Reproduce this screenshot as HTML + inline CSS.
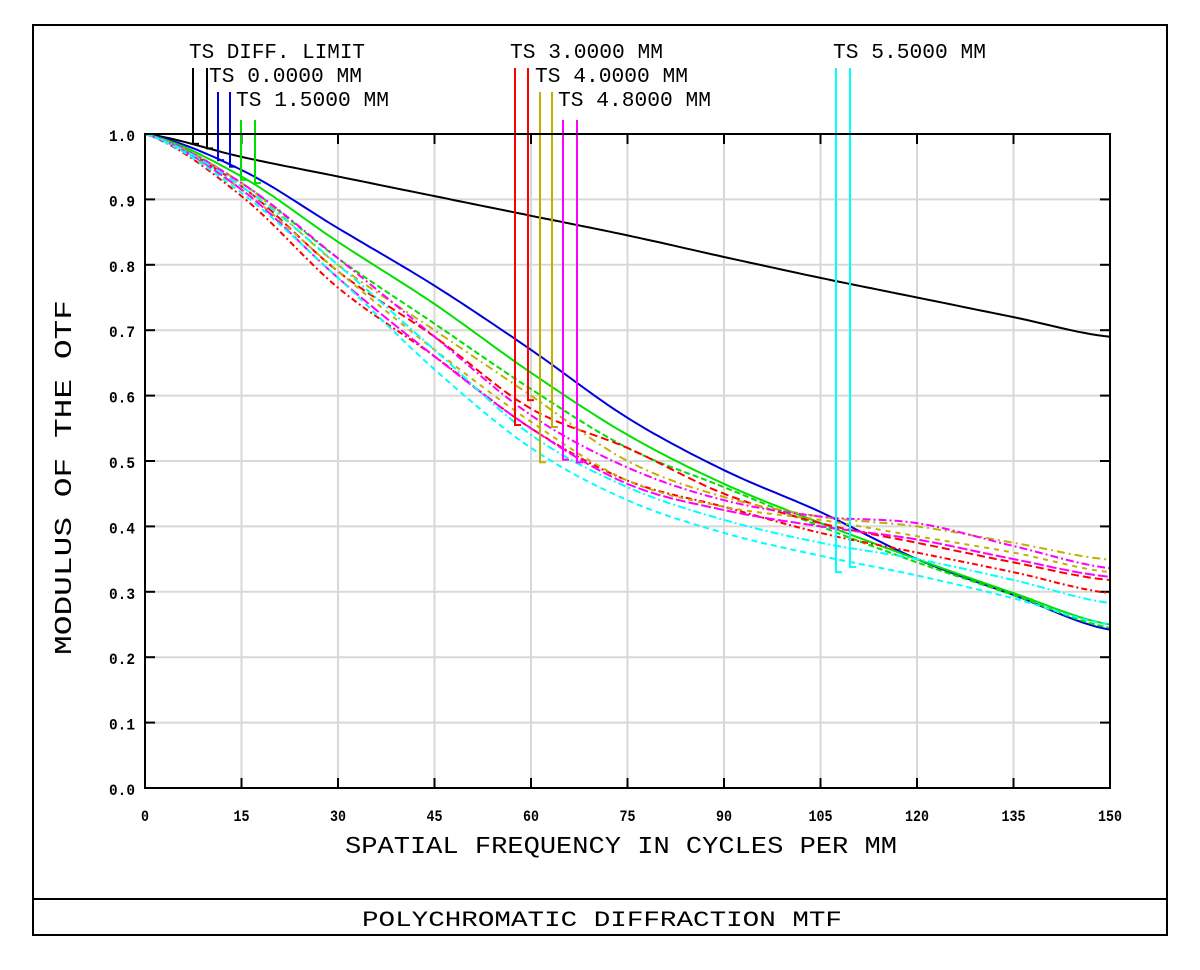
<!DOCTYPE html>
<html><head><meta charset="utf-8"><style>
body{margin:0;background:#fff}
svg{display:block}
text{font-family:"Liberation Mono",monospace;fill:#000}
.t{font-size:16px;font-weight:bold}
</style></head><body>
<svg id="s" width="1200" height="970" xmlns="http://www.w3.org/2000/svg">
<rect x="0" y="0" width="1200" height="970" fill="#fff"/>
<rect x="33" y="25" width="1134" height="910" fill="none" stroke="#000" stroke-width="2"/>
<line x1="33" y1="899" x2="1167" y2="899" stroke="#000" stroke-width="2"/>
<g id="grid"></g>
<g id="curves"></g>
<g id="leg"></g>
<rect x="145" y="134" width="965" height="654" fill="none" stroke="#000" stroke-width="2"/>
<text x="189" y="58" font-size="21" textLength="176" lengthAdjust="spacingAndGlyphs">TS DIFF. LIMIT</text>
<text x="209" y="82" font-size="21" textLength="153" lengthAdjust="spacingAndGlyphs">TS 0.0000 MM</text>
<text x="236" y="106" font-size="21" textLength="153" lengthAdjust="spacingAndGlyphs">TS 1.5000 MM</text>
<text x="510" y="58" font-size="21" textLength="153" lengthAdjust="spacingAndGlyphs">TS 3.0000 MM</text>
<text x="535" y="82" font-size="21" textLength="153" lengthAdjust="spacingAndGlyphs">TS 4.0000 MM</text>
<text x="558" y="106" font-size="21" textLength="153" lengthAdjust="spacingAndGlyphs">TS 4.8000 MM</text>
<text x="833" y="58" font-size="21" textLength="153" lengthAdjust="spacingAndGlyphs">TS 5.5000 MM</text>
<text x="345" y="853" font-size="24" textLength="552" lengthAdjust="spacingAndGlyphs">SPATIAL FREQUENCY IN CYCLES PER MM</text>
<text transform="translate(71,655) rotate(-90)" font-size="24" textLength="355" lengthAdjust="spacingAndGlyphs">MODULUS OF THE OTF</text>
<text x="362" y="926" font-size="22" textLength="480" lengthAdjust="spacingAndGlyphs">POLYCHROMATIC DIFFRACTION MTF</text>
</svg>
<script>
var NS="http://www.w3.org/2000/svg";
function X(f){return 145+f*965/150}
function Y(m){return 788-m*654}
function el(p,tag,a){var e=document.createElementNS(NS,tag);for(var k in a)e.setAttribute(k,a[k]);p.appendChild(e);return e}
var g=document.getElementById('grid');
for(var i=1;i<10;i++){el(g,'line',{x1:X(i*15),y1:134,x2:X(i*15),y2:788,stroke:'#d8d8d8','stroke-width':2});
 el(g,'line',{x1:X(i*15),y1:134,x2:X(i*15),y2:144,stroke:'#000','stroke-width':2});
 el(g,'line',{x1:X(i*15),y1:778,x2:X(i*15),y2:788,stroke:'#000','stroke-width':2});}
for(var i=1;i<10;i++){el(g,'line',{x1:145,y1:Y(i/10),x2:1110,y2:Y(i/10),stroke:'#d8d8d8','stroke-width':2});
 el(g,'line',{x1:145,y1:Y(i/10),x2:155,y2:Y(i/10),stroke:'#000','stroke-width':2});
 el(g,'line',{x1:1100,y1:Y(i/10),x2:1110,y2:Y(i/10),stroke:'#000','stroke-width':2});}
for(var i=0;i<=10;i++){var t=el(g,'text',{x:109,y:Y(i/10)+7,'class':'t',textLength:26,lengthAdjust:'spacingAndGlyphs'});t.textContent=(i/10).toFixed(1);}
var xl=['0','15','30','45','60','75','90','105','120','135','150'];
for(var i=0;i<=10;i++){var s=xl[i];var w=s.length*8;var t=el(g,'text',{x:X(i*15)-w/2,y:821,'class':'t',textLength:w,lengthAdjust:'spacingAndGlyphs'});t.textContent=s;}
var C=[
['#000','',[1,.965,.935,.905,.875,.845,.812,.78,.75,.72,.69]],
['#0000dd','',[1,.945,.856,.768,.67,.566,.486,.422,.35,.295,.242]],
['#00e000','',[1,.935,.835,.74,.635,.54,.465,.405,.35,.298,.25]],
['#00e000','6 3',[1,.925,.81,.71,.61,.52,.46,.4,.345,.295,.245]],
['#ff0000','6 3 2 3',[1,.905,.765,.66,.55,.47,.43,.39,.36,.33,.298]],
['#ff0000','8 4',[1,.92,.79,.69,.58,.52,.45,.405,.375,.345,.318]],
['#c0b000','8 4 2 4',[1,.925,.80,.70,.60,.50,.445,.415,.40,.375,.349]],
['#c0b000','5 5',[1,.915,.79,.67,.56,.47,.43,.41,.385,.36,.33]],
['#ff00ff','8 3 2 3',[1,.925,.81,.69,.57,.49,.44,.415,.405,.37,.336]],
['#ff00ff','10 3',[1,.915,.78,.66,.55,.465,.425,.40,.38,.35,.323]],
['#00ffff','6 4',[1,.91,.78,.64,.52,.44,.39,.355,.325,.29,.25]],
['#00ffff','8 3 2 3',[1,.92,.80,.67,.54,.46,.41,.375,.35,.318,.283]]];
var cg=document.getElementById('curves');
C.forEach(function(c){var d='';var v=c[2];
 for(var f=0;f<=150;f+=1){var k=Math.min(9,Math.floor(f/15));var t=(f-15*k)/15;
  var p0=v[Math.max(0,k-1)],p1=v[k],p2=v[k+1],p3=v[Math.min(10,k+2)];
  var m=0.5*((2*p1)+(-p0+p2)*t+(2*p0-5*p1+4*p2-p3)*t*t+(-p0+3*p1-3*p2+p3)*t*t*t);
  d+=(f?'L':'M')+X(f).toFixed(1)+' '+Y(m).toFixed(1);}
 var a={d:d,fill:'none',stroke:c[0],'stroke-width':2};if(c[1])a['stroke-dasharray']=c[1];el(cg,'path',a);});
var L=[['#000',193,68,.985],['#000',207,68,.978],['#0000dd',218,92,.96],['#0000dd',230,92,.95],
['#00e000',241,120,.93],['#00e000',255,120,.925],['#ff0000',515,68,.555],['#ff0000',528,68,.593],
['#c0b000',540,92,.498],['#c0b000',552,92,.552],['#ff00ff',563,120,.502],['#ff00ff',577,120,.498],
['#00ffff',836,68,.33],['#00ffff',850,68,.338]];
var lg=document.getElementById('leg');
L.forEach(function(l){el(lg,'line',{x1:l[1],y1:l[2],x2:l[1],y2:Y(l[3]),stroke:l[0],'stroke-width':2});
 el(lg,'line',{x1:l[1]-1,y1:Y(l[3]),x2:l[1]+6,y2:Y(l[3]),stroke:l[0],'stroke-width':2});});
</script>
</body></html>
